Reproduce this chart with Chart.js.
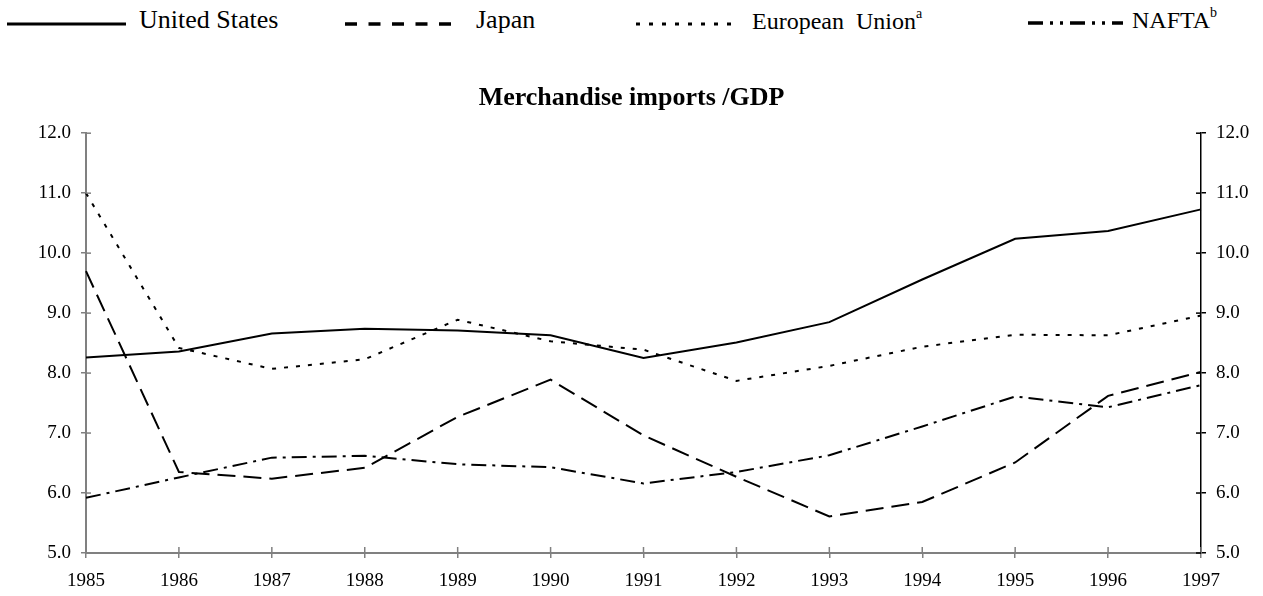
<!DOCTYPE html>
<html>
<head>
<meta charset="utf-8">
<script src="https://cdn.jsdelivr.net/npm/chart.js@4"></script>
<style>
    body { margin: 0; background: #fff; }
    #wrap { position: relative; width: 1263px; height: 596px; }
    .leg { position: absolute; font-family: "Liberation Serif", serif; color: #000; line-height: 1; white-space: pre; }
    .leg sup { font-size: 14px; vertical-align: 0; position: relative; top: -11px; }
    svg.sample { position: absolute; top: 0; left: 0; }
</style>
</head>
<body>
<div id="wrap">
    <svg class="sample" width="1263" height="40">
        <line x1="7" y1="24" x2="126" y2="24" stroke="#000" stroke-width="3"/>
        <line x1="345" y1="24" x2="462" y2="24" stroke="#000" stroke-width="3.5" stroke-dasharray="12 11.5"/>
        <line x1="636" y1="24" x2="732" y2="24" stroke="#000" stroke-width="3" stroke-dasharray="4 9"/>
        <line x1="1028" y1="23" x2="1123" y2="23" stroke="#000" stroke-width="3.5" stroke-dasharray="15 7 3 7 3 7"/>
    </svg>
    <span class="leg" style="left:139px; top:7px; font-size:26px; font-family:'Liberation Serif', serif;">United States</span>
    <span class="leg" style="left:476px; top:7px; font-size:26px; font-family:'Liberation Serif', serif;">Japan</span>
    <span class="leg" style="left:752px; top:9px; font-size:24px; font-family:'Liberation Serif', serif;">European  Union<sup>a</sup></span>
    <span class="leg" style="left:1132px; top:8px; font-size:24px; font-family:'Liberation Serif', serif;">NAFTA<sup>b</sup></span>
    <canvas id="chart" width="1263" height="596" style="position:absolute; left:0; top:0;"></canvas>
</div>
<script>
document.addEventListener('DOMContentLoaded', () => {

    const years = ['1985', '1986', '1987', '1988', '1989', '1990', '1991', '1992', '1993', '1994', '1995', '1996', '1997'];

    // values
    const unitedStates = [8.26, 8.36, 8.66, 8.74, 8.71, 8.63, 8.25, 8.51, 8.85, 9.56, 10.24, 10.37, 10.73];
    const japan = [9.70, 6.35, 6.24, 6.42, 7.27, 7.89, 6.96, 6.27, 5.61, 5.85, 6.51, 7.62, 8.02];
    const europeanUnion = [11.0, 8.42, 8.07, 8.23, 8.89, 8.53, 8.39, 7.87, 8.12, 8.44, 8.64, 8.63, 8.96];
    const nafta = [5.92, 6.26, 6.59, 6.62, 6.48, 6.43, 6.16, 6.35, 6.63, 7.11, 7.61, 7.43, 7.80];

    const yMin = 5;
    const yMax = 12;

    const serif = '"Liberation Serif", serif';
    const tickFont = { family: serif, size: 19 };

    // tick marks in the reference cross the axis, chart.js only draws the outer half
    const innerTicks = {
        id: 'innerTicks',
        afterDatasetsDraw(chart) {
            const { ctx, chartArea, scales } = chart;
            ctx.save();
            ctx.lineWidth = 1.5;
            ctx.strokeStyle = '#808080';
            scales.x.ticks.forEach((t, i) => {
                const px = scales.x.getPixelForTick(i);
                ctx.beginPath();
                ctx.moveTo(px, chartArea.bottom);
                ctx.lineTo(px, chartArea.bottom - 6);
                ctx.stroke();
            });
            scales.y.ticks.forEach((t, i) => {
                const py = scales.y.getPixelForTick(i);
                ctx.beginPath();
                ctx.moveTo(chartArea.left, py);
                ctx.lineTo(chartArea.left + 5, py);
                ctx.stroke();
            });
            ctx.strokeStyle = '#000';
            scales.y2.ticks.forEach((t, i) => {
                const py = scales.y2.getPixelForTick(i);
                ctx.beginPath();
                ctx.moveTo(chartArea.right, py);
                ctx.lineTo(chartArea.right - 5, py);
                ctx.stroke();
            });
            ctx.restore();
        }
    };

    function lineSet(label, values, dash) {
        return {
            label: label,
            data: values,
            borderColor: '#000',
            backgroundColor: '#000',
            borderWidth: 2,
            borderDash: dash,
            pointRadius: 0,
            tension: 0,
            fill: false,
            yAxisID: 'y'
        };
    }

    const ctx = document.getElementById('chart').getContext('2d');
    window.importsChart = new Chart(ctx, {
        type: 'line',
        data: {
            labels: years,
            datasets: [
                lineSet('United States', unitedStates, []),
                lineSet('Japan', japan, [18, 8]),
                lineSet('European Union', europeanUnion, [4, 8]),
                lineSet('NAFTA', nafta, [15, 6, 3, 6])
            ]
        },
        options: {
            responsive: false,
            devicePixelRatio: 1,
            animation: false,
            layout: { padding: { top: 0, left: 0, right: 0, bottom: 0 } },
            plugins: {
                legend: { display: false },
                tooltip: { enabled: false },
                title: {
                    display: true,
                    text: 'Merchandise imports /GDP',
                    color: '#000',
                    font: { family: serif, size: 26, weight: 'bold', lineHeight: 1.2 },
                    padding: { top: 83, bottom: 19 }
                }
            },
            scales: {
                x: {
                    offset: false,
                    grid: { display: true, drawOnChartArea: false, drawTicks: true, tickLength: 5, color: '#808080', lineWidth: 1.5 },
                    border: { display: true, color: '#808080', width: 2 },
                    ticks: { color: '#000', font: tickFont, padding: 12, maxRotation: 0, autoSkip: false },
                    afterFit: scale => { scale.height = 43; }
                },
                y: {
                    position: 'left',
                    min: yMin,
                    max: yMax,
                    grid: { display: true, drawOnChartArea: false, drawTicks: true, tickLength: 5, color: '#808080', lineWidth: 1.5 },
                    border: { display: true, color: '#808080', width: 2 },
                    ticks: { stepSize: 1, color: '#000', font: tickFont, padding: 10, callback: v => v.toFixed(1) },
                    afterFit: scale => { scale.width = 86; }
                },
                y2: {
                    position: 'right',
                    min: yMin,
                    max: yMax,
                    grid: { display: true, drawOnChartArea: false, drawTicks: true, tickLength: 5, color: '#000', lineWidth: 1.5 },
                    border: { display: true, color: '#000', width: 1.5 },
                    ticks: { stepSize: 1, color: '#000', font: tickFont, padding: 10, callback: v => v.toFixed(1) },
                    afterFit: scale => { scale.width = 62; }
                }
            }
        },
        plugins: [innerTicks]
    });
});
</script>
</body>
</html>
